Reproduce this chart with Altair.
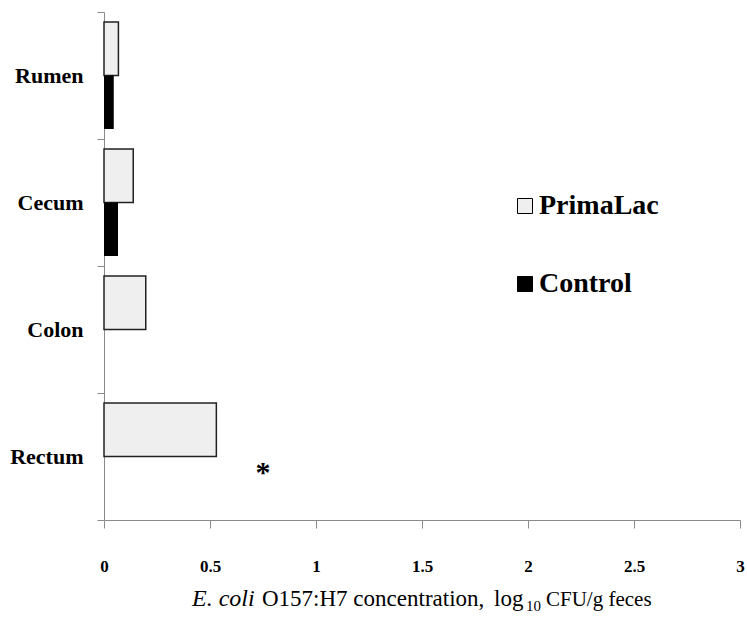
import altair as alt
import pandas as pd

categories = ["Rumen", "Cecum", "Colon", "Rectum"]
groups = ["PrimaLac", "Control"]
primalac = [0.068, 0.138, 0.197, 0.53]
control = [0.046, 0.066, 0.0, 0.0]
sig_site = ["Rectum"]
sig_x = [0.75]
x_ticks = [0, 0.5, 1, 1.5, 2, 2.5, 3]

rows = []
for c, p, k in zip(categories, primalac, control):
    rows.append({"site": c, "group": "PrimaLac", "value": p})
    rows.append({"site": c, "group": "Control", "value": k})
df = pd.DataFrame(rows)
sig_df = pd.DataFrame({"site": sig_site, "x": sig_x})

SERIF = "Liberation Serif, Times New Roman, DejaVu Serif, serif"

y_enc = alt.Y("site:N", sort=categories,
              scale=alt.Scale(domain=categories, paddingInner=0, paddingOuter=0),
              axis=alt.Axis(title=None, tickBand="extent", tickSize=7,
                            tickColor="#8a8a8a", domainColor="#8a8a8a",
                            labelFont=SERIF, labelFontSize=22, labelFontWeight="bold",
                            labelColor="black", labelPadding=14, grid=False))
x_enc = alt.X("value:Q",
              scale=alt.Scale(domain=[0, 3], nice=False),
              axis=alt.Axis(title=None, values=x_ticks, tickSize=8, format="~g",
                            tickColor="#8a8a8a", domainColor="#8a8a8a",
                            labelFont=SERIF, labelFontSize=17, labelFontWeight="bold",
                            labelColor="black", labelPadding=30, grid=False,
                            labelFlush=False))

bars = alt.Chart(df).mark_bar(stroke="#222222").encode(
    x=x_enc,
    y=y_enc,
    yOffset=alt.YOffset("group:N", sort=groups,
                        scale=alt.Scale(domain=groups, paddingOuter=0.187, paddingInner=0)),
    color=alt.Color("group:N",
                    scale=alt.Scale(domain=groups, range=["#efefef", "#000000"]),
                    legend=alt.Legend(title=None, orient="none", legendX=407, legendY=180,
                                      symbolType="square", symbolSize=225,
                                      symbolStrokeColor="black", symbolStrokeWidth=1,
                                      labelFont=SERIF, labelFontSize=28,
                                      labelFontWeight="bold", labelColor="black",
                                      rowPadding=50, labelOffset=0, padding=0,
                                      symbolOffset=0)),
    strokeWidth=alt.condition(alt.datum.group == "PrimaLac", alt.value(1.5), alt.value(0)),
)

star = alt.Chart(sig_df).mark_text(text="*", font=SERIF, fontSize=30, fontWeight="bold",
                                   color="black", dy=16).encode(
    x=alt.X("x:Q"), y=alt.Y("site:N", sort=categories)
)

one = pd.DataFrame({"a": [0]})
TY = 594
def piece(txt, x, y=TY, size=22, style="normal"):
    return alt.Chart(one).mark_text(text=txt, font=SERIF, fontSize=size, fontStyle=style,
                                    align="left", baseline="alphabetic", color="black").encode(
        x=alt.value(x), y=alt.value(y))

title = (piece("E. coli", 88, size=24, style="italic")
         + piece("O157:H7 concentration,", 158, size=23)
         + piece("log", 390, size=23)
         + piece("10", 422, y=TY + 5, size=15)
         + piece("CFU/g feces", 442, size=21))

chart = alt.layer(bars, star, title).properties(
    width=636, height=508,
    padding={"left": 104, "top": 12, "right": 7, "bottom": 97},
    autosize=alt.AutoSizeParams(type="none"),
).configure_view(stroke=None)

chart.save("out.html", embed_options={"renderer": "svg", "actions": False})
